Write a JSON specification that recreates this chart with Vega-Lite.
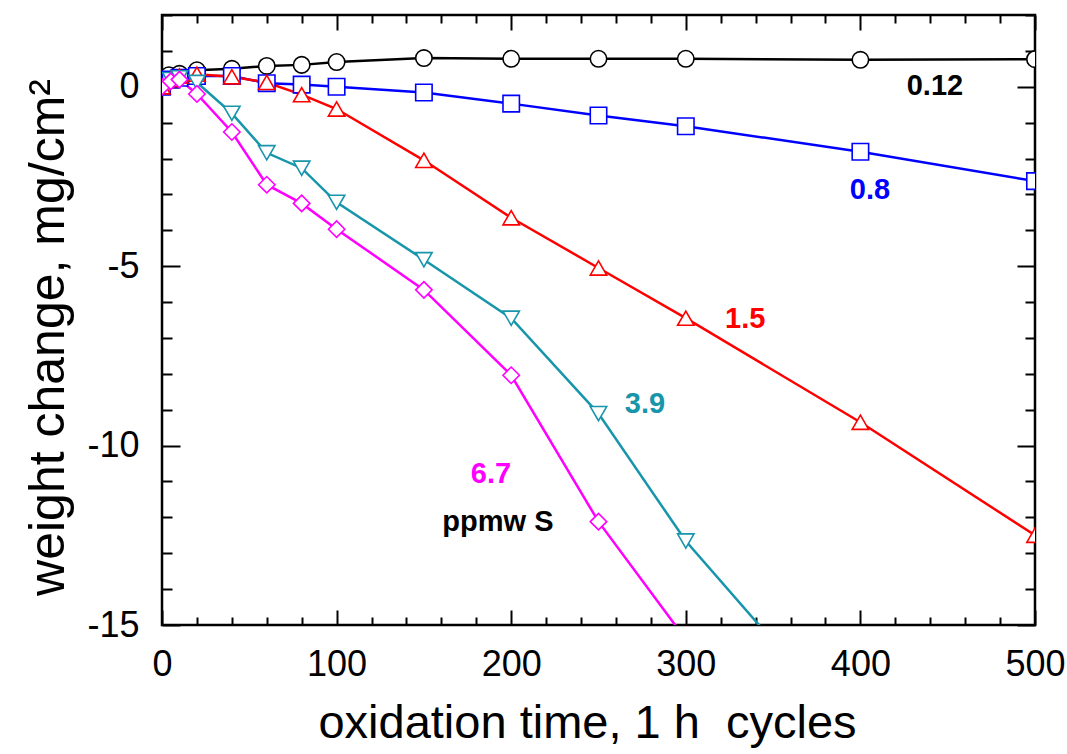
{
  "$schema": "https://vega.github.io/schema/vega-lite/v6.json",
  "width": 873,
  "height": 610,
  "autosize": {"type": "none"},
  "padding": {"left": 162, "top": 15, "right": 32, "bottom": 129},
  "background": "white",
  "config": {
    "view": {"stroke": "#000000", "strokeWidth": 2.5},
    "font": "Liberation Sans"
  },
  "datasets": {
    "series": [
      {"x": 0, "y": 0.04, "s": "0.12"}, {"x": 1, "y": 0.25, "s": "0.12"}, {"x": 4, "y": 0.32, "s": "0.12"}, {"x": 10, "y": 0.36, "s": "0.12"}, {"x": 20, "y": 0.46, "s": "0.12"}, {"x": 40, "y": 0.5, "s": "0.12"}, {"x": 60, "y": 0.58, "s": "0.12"}, {"x": 80, "y": 0.61, "s": "0.12"}, {"x": 100, "y": 0.69, "s": "0.12"}, {"x": 150, "y": 0.8, "s": "0.12"}, {"x": 200, "y": 0.78, "s": "0.12"}, {"x": 250, "y": 0.78, "s": "0.12"}, {"x": 300, "y": 0.78, "s": "0.12"}, {"x": 400, "y": 0.75, "s": "0.12"}, {"x": 500, "y": 0.77, "s": "0.12"},
      {"x": 0, "y": 0.0, "s": "0.8"}, {"x": 5, "y": 0.2, "s": "0.8"}, {"x": 10, "y": 0.25, "s": "0.8"}, {"x": 20, "y": 0.3, "s": "0.8"}, {"x": 40, "y": 0.3, "s": "0.8"}, {"x": 60, "y": 0.1, "s": "0.8"}, {"x": 80, "y": 0.06, "s": "0.8"}, {"x": 100, "y": 0.0, "s": "0.8"}, {"x": 150, "y": -0.16, "s": "0.8"}, {"x": 200, "y": -0.47, "s": "0.8"}, {"x": 250, "y": -0.8, "s": "0.8"}, {"x": 300, "y": -1.1, "s": "0.8"}, {"x": 400, "y": -1.81, "s": "0.8"}, {"x": 500, "y": -2.63, "s": "0.8"},
      {"x": 0, "y": 0.0, "s": "1.5"}, {"x": 5, "y": 0.2, "s": "1.5"}, {"x": 10, "y": 0.3, "s": "1.5"}, {"x": 20, "y": 0.35, "s": "1.5"}, {"x": 40, "y": 0.28, "s": "1.5"}, {"x": 60, "y": 0.12, "s": "1.5"}, {"x": 80, "y": -0.22, "s": "1.5"}, {"x": 100, "y": -0.62, "s": "1.5"}, {"x": 150, "y": -2.05, "s": "1.5"}, {"x": 200, "y": -3.65, "s": "1.5"}, {"x": 250, "y": -5.05, "s": "1.5"}, {"x": 300, "y": -6.45, "s": "1.5"}, {"x": 400, "y": -9.35, "s": "1.5"}, {"x": 500, "y": -12.5, "s": "1.5"},
      {"x": 0, "y": 0.0, "s": "3.9"}, {"x": 5, "y": 0.2, "s": "3.9"}, {"x": 10, "y": 0.25, "s": "3.9"}, {"x": 20, "y": 0.12, "s": "3.9"}, {"x": 40, "y": -0.74, "s": "3.9"}, {"x": 60, "y": -1.84, "s": "3.9"}, {"x": 80, "y": -2.27, "s": "3.9"}, {"x": 100, "y": -3.22, "s": "3.9"}, {"x": 150, "y": -4.82, "s": "3.9"}, {"x": 200, "y": -6.45, "s": "3.9"}, {"x": 250, "y": -9.11, "s": "3.9"}, {"x": 300, "y": -12.66, "s": "3.9"}, {"x": 350, "y": -15.45, "s": "3.9"},
      {"x": 0, "y": 0.0, "s": "6.7"}, {"x": 5, "y": 0.15, "s": "6.7"}, {"x": 10, "y": 0.2, "s": "6.7"}, {"x": 20, "y": -0.2, "s": "6.7"}, {"x": 40, "y": -1.26, "s": "6.7"}, {"x": 60, "y": -2.73, "s": "6.7"}, {"x": 80, "y": -3.25, "s": "6.7"}, {"x": 100, "y": -3.97, "s": "6.7"}, {"x": 150, "y": -5.66, "s": "6.7"}, {"x": 200, "y": -8.04, "s": "6.7"}, {"x": 250, "y": -12.12, "s": "6.7"}, {"x": 300, "y": -15.4, "s": "6.7"}
    ],
    "labels": [
      {"x": 442.7, "y": 0.03, "text": "0.12", "s": "0.12"},
      {"x": 405.5, "y": -2.88, "text": "0.8", "s": "0.8"},
      {"x": 334, "y": -6.48, "text": "1.5", "s": "1.5"},
      {"x": 276.6, "y": -8.85, "text": "3.9", "s": "3.9"},
      {"x": 188.4, "y": -10.78, "text": "6.7", "s": "6.7"},
      {"x": 192.4, "y": -12.12, "text": "ppmw S", "s": "ppmw S"}
    ]
  },
  "layer": [
    {
      "data": {"name": "series"},
      "mark": {"type": "line", "clip": true, "strokeWidth": 2.5},
      "encoding": {
        "x": {
          "field": "x", "type": "quantitative",
          "scale": {"domain": [0, 500], "nice": false, "zero": false},
          "axis": {
            "orient": "bottom",
            "title": "oxidation time, 1 h\u00a0 cycles",
            "titleFont": "Liberation Sans", "titleFontSize": 47, "titleFontWeight": "normal", "titleColor": "#000000", "titlePadding": 11,
            "titleX": 425,
            "values": [0, 20, 40, 60, 80, 100, 120, 140, 160, 180, 200, 220, 240, 260, 280, 300, 320, 340, 360, 380, 400, 420, 440, 460, 480, 500],
            "labelExpr": "datum.value % 100 === 0 ? datum.label : ''",
            "labelFont": "Liberation Sans", "labelFontSize": 36, "labelColor": "#000000", "labelPadding": 37,
            "labelFlush": false, "labelOverlap": false,
            "domain": false, "grid": false,
            "tickColor": "#000000", "tickWidth": 2,
            "tickSize": {"condition": {"test": "datum.value % 100 === 0", "value": -15}, "value": -8}
          }
        },
        "y": {
          "field": "y", "type": "quantitative",
          "scale": {"domain": [-15, 2], "nice": false, "zero": false},
          "axis": {
            "orient": "left",
            "title": "weight change, mg/cm²",
            "titleFont": "Liberation Sans", "titleFontSize": 50, "titleFontWeight": "normal", "titleColor": "#000000", "titlePadding": 13,
            "titleY": 322,
            "values": [-15, -14, -13, -12, -11, -10, -9, -8, -7, -6, -5, -4, -3, -2, -1, 0, 1, 2],
            "labelExpr": "datum.value % 5 === 0 ? '' + datum.value : ''",
            "labelFont": "Liberation Sans", "labelFontSize": 36, "labelColor": "#000000", "labelPadding": 41,
            "labelFlush": false, "labelOverlap": false,
            "domain": false, "grid": false,
            "tickColor": "#000000", "tickWidth": 2,
            "tickSize": {"condition": {"test": "datum.value % 5 === 0", "value": -18}, "value": -10}
          }
        },
        "color": {
          "field": "s", "type": "nominal",
          "scale": {"domain": ["0.12", "0.8", "1.5", "3.9", "6.7"], "range": ["#000000", "#0000ff", "#ff0000", "#1795aa", "#ff00ff"]},
          "legend": null
        },
        "order": {"field": "x", "type": "quantitative"}
      }
    },
    {
      "data": {"name": "series"},
      "mark": {"type": "point", "clip": true, "filled": true, "fill": "white", "strokeWidth": 1.6, "opacity": 1, "size": 270},
      "encoding": {
        "x": {"field": "x", "type": "quantitative", "axis": null},
        "y": {"field": "y", "type": "quantitative", "axis": null},
        "stroke": {
          "field": "s", "type": "nominal",
          "scale": {"domain": ["0.12", "0.8", "1.5", "3.9", "6.7"], "range": ["#000000", "#0000ff", "#ff0000", "#1795aa", "#ff00ff"]},
          "legend": null
        },
        "shape": {
          "field": "s", "type": "nominal",
          "scale": {"domain": ["0.12", "0.8", "1.5", "3.9", "6.7"], "range": ["circle", "square", "triangle-up", "triangle-down", "diamond"]},
          "legend": null
        }
      }
    },
    {
      "data": {"name": "labels"},
      "mark": {"type": "text", "font": "Liberation Sans", "fontSize": 29, "fontWeight": "bold", "align": "center", "baseline": "middle"},
      "encoding": {
        "x": {
          "field": "x", "type": "quantitative",
          "axis": {
            "orient": "top", "title": null, "labels": false, "domain": false, "grid": false,
            "values": [0, 20, 40, 60, 80, 100, 120, 140, 160, 180, 200, 220, 240, 260, 280, 300, 320, 340, 360, 380, 400, 420, 440, 460, 480, 500],
            "tickColor": "#000000", "tickWidth": 2,
            "tickSize": {"condition": {"test": "datum.value % 100 === 0", "value": -15}, "value": -8}
          }
        },
        "y": {
          "field": "y", "type": "quantitative",
          "axis": {
            "orient": "right", "title": null, "labels": false, "domain": false, "grid": false,
            "values": [-15, -14, -13, -12, -11, -10, -9, -8, -7, -6, -5, -4, -3, -2, -1, 0, 1, 2],
            "tickColor": "#000000", "tickWidth": 2,
            "tickSize": {"condition": {"test": "datum.value % 5 === 0", "value": -18}, "value": -10}
          }
        },
        "text": {"field": "text", "type": "nominal"},
        "color": {
          "field": "s", "type": "nominal",
          "scale": {"domain": ["0.12", "0.8", "1.5", "3.9", "6.7", "ppmw S"], "range": ["#000000", "#0000ff", "#ff0000", "#1795aa", "#ff00ff", "#000000"]},
          "legend": null
        }
      }
    }
  ],
  "resolve": {
    "axis": {"x": "independent", "y": "independent"},
    "scale": {"color": "independent"}
  }
}
